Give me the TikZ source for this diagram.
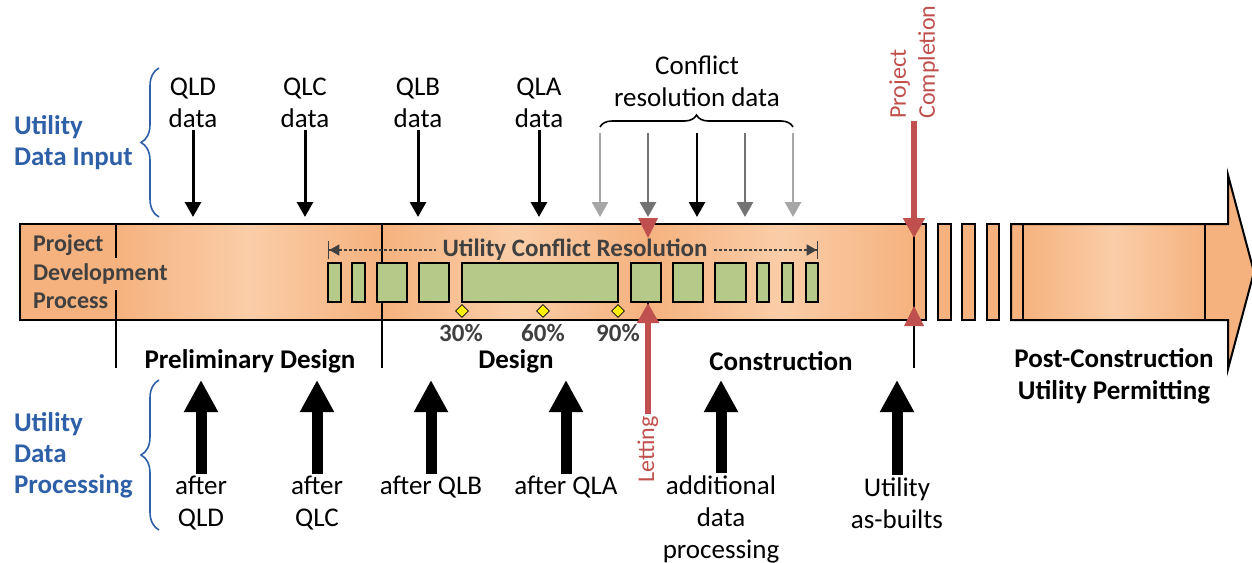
\documentclass[tikz,border=0pt]{standalone}
\usepackage{fontspec}
\setmainfont{Carlito}
\usetikzlibrary{arrows.meta, shapes.geometric, decorations.pathreplacing, positioning}

\definecolor{barorange}{RGB}{245,178,126}
\definecolor{barlight}{RGB}{250,205,168}
\definecolor{boxgreen}{RGB}{181,202,137}
\definecolor{headblue}{RGB}{46,96,168}
\definecolor{markred}{RGB}{192,80,77}
\definecolor{textgray}{RGB}{64,64,64}
\definecolor{lightarr}{RGB}{166,166,166}
\definecolor{midarr}{RGB}{115,115,115}

\begin{document}
\begin{tikzpicture}[x=0.5pt, y=-0.5pt,
        datatext/.style={align=center, inner sep=1pt, font=\fontsize{13.5}{16}\selectfont},
        phase/.style={align=center, font=\fontsize{13.5}{16}\selectfont\bfseries},
        sidetext/.style={align=left, anchor=west, text=headblue, font=\fontsize{13.5}{15.5}\selectfont\bfseries},
        pct/.style={text=textgray, font=\fontsize{12.5}{14}\selectfont\bfseries},
        redtext/.style={rotate=90, text=markred, inner sep=1pt, font=\fontsize{12}{14.5}\selectfont},
        inputarrow/.style={-{Triangle[length=7.5pt,width=8pt]}, line width=1.5pt},
        procarrow/.style={-{Triangle[length=16pt,width=16pt]}, line width=5.5pt},
        redarrow/.style={-{Triangle[length=10pt,width=10.5pt]}, line width=2.8pt, draw=markred},
        ucrline/.style={draw=textgray, line width=0.65pt, dash pattern=on 1.5pt off 1pt},
        ucbox/.style={draw, line width=0.9pt, fill=boxgreen},
        milestone/.style={diamond, draw, fill=yellow, inner sep=0pt, minimum size=6.5pt, line width=0.4pt},
        seg/.style={left color=barorange, right color=barorange, middle color=barlight},
        bluebrace/.style={decorate, decoration={brace, amplitude=9pt}, draw=headblue, line width=0.8pt}]

        \useasboundingbox (0,0) rectangle (1252,562);

        % Process bar
        \fill[barorange] (20,224) rectangle (116,320);
        \shade[seg] (116,224) rectangle (382,320);
        \shade[seg] (382,224) rectangle (648,320);
        \shade[seg] (648,224) rectangle (914,320);
        \fill[barorange] (914,224) rectangle (926,320);
        \draw[line width=1pt] (20,224) rectangle (926,320);
        \foreach \a/\b in {938/951, 962/975, 987/999}
          \draw[line width=1pt, fill=barorange] (\a,224) rectangle (\b,320);
        \fill[barorange] (1011,224) -- (1228,224) -- (1228,175) -- (1254,272)
          -- (1228,369) -- (1228,320) -- (1011,320) -- cycle;
        \shade[seg] (1023,224) rectangle (1205,320);
        \draw[line width=1pt] (1011,224) -- (1228,224) -- (1228,175) -- (1254,272)
          -- (1228,369) -- (1228,320) -- (1011,320) -- cycle;
        \draw[line width=0.8pt] (1023,224) -- (1023,320) (1205,224) -- (1205,320);

        % Phase dividers
        \draw[line width=0.8pt] (116,224) -- (116,258) (116,290) -- (116,368);
        \draw[line width=0.8pt] (382,224) -- (382,368);
        \draw[line width=0.8pt] (648,302) -- (648,368);
        \draw[line width=0.8pt] (914,224) -- (914,368);

        \node[anchor=west, align=left, text=textgray, font=\fontsize{12}{14.2}\selectfont\bfseries]
          (pdp) at (26,272) {Project\\Development\\Process};

        % Utility conflict resolution
        \node[text=textgray, inner sep=3pt, font=\fontsize{12.5}{14}\selectfont\bfseries]
          (ucr) at (575,250) {Utility Conflict Resolution};
        \coordinate (ucrl) at (328,250);
        \coordinate (ucrr) at (818,250);
        \draw[ucrline, {Bar[width=9pt]Triangle[length=5pt,width=5.5pt]}-] (ucrl) -- (ucr.west);
        \draw[ucrline, -{Triangle[length=5pt,width=5.5pt]Bar[width=9pt]}] (ucr.east) -- (ucrr);
        \foreach \a/\b in {328/341, 352/365, 377/407, 419/449, 462/618, 631/661,
                           673/703, 715/746, 757/769, 782/793, 806/818}
          \draw[ucbox] (\a,263) rectangle (\b,302);

        \node[milestone] (m30) at (462,311) {};
        \node[milestone] (m60) at (543,311) {};
        \node[milestone] (m90) at (618,311) {};
        \node[pct] (p30) at (461,333) {30\%};
        \node[pct] (p60) at (543,333) {60\%};
        \node[pct] (p90) at (618,333) {90\%};

        % Phases
        \node[phase] (prelim) at (250,361) {Preliminary Design};
        \node[phase] (design) at (516,361) {Design};
        \node[phase] (constr) at (781,361) {Construction};
        \node[phase] (post)   at (1114,376) {Post-Construction\\Utility Permitting};

        % Utility data input
        \node[sidetext] (udi) at (7,143) {Utility\\Data Input};
        \draw[bluebrace] (159,217) -- (159,68);
        \node[datatext] (qld) at (193,103) {QLD\\data};
        \node[datatext] (qlc) at (305,103) {QLC\\data};
        \node[datatext] (qlb) at (418,103) {QLB\\data};
        \node[datatext] (qla) at (539,103) {QLA\\data};
        \coordinate (qldin) at (193,217);
        \coordinate (qlcin) at (305,217);
        \coordinate (qlbin) at (418,217);
        \coordinate (qlain) at (539,217);
        \draw[inputarrow] (qld) -- (qldin);
        \draw[inputarrow] (qlc) -- (qlcin);
        \draw[inputarrow] (qlb) -- (qlbin);
        \draw[inputarrow] (qla) -- (qlain);

        \node[datatext] (crd) at (697,81) {Conflict\\resolution data};
        \draw[decorate, decoration={brace, amplitude=6pt}, line width=0.8pt] (600,127) -- (793,127);
        \foreach \x/\c [count=\i] in {600/lightarr, 648/midarr, 697/black, 745/midarr, 793/lightarr} {
          \coordinate (crs\i) at (\x,133);
          \coordinate (cre\i) at (\x,217);
          \draw[inputarrow, draw=\c, fill=\c, line width=1.4pt] (crs\i) -- (cre\i);
        }

        % Milestones
        \node[redtext, anchor=west, align=left] (pcomp) at (914,121) {Project\\Completion};
        \coordinate (pcompend) at (914,238);
        \draw[redarrow] (pcomp.west) -- (pcompend);
        \fill[markred] (904,326) -- (924,326) -- (914,306) -- cycle;

        \node[redtext, anchor=east] (letting) at (648,414) {Letting};
        \coordinate (lettend) at (648,303);
        \draw[redarrow] (letting.east) -- (lettend);
        \fill[markred] (638,218) -- (658,218) -- (648,238) -- cycle;

        % Utility data processing
        \node[sidetext] (udp) at (7,455) {Utility\\Data\\Processing};
        \draw[bluebrace] (159,530) -- (159,380);
        \node[datatext] (aqld)  at (201,503) {after\\QLD};
        \node[datatext] (aqlc)  at (317,503) {after\\QLC};
        \node[datatext] (aqlb)  at (431,487) {after QLB};
        \node[datatext] (aqla)  at (566,487) {after QLA};
        \node[datatext] (addp)  at (721,519) {additional\\data\\processing};
        \node[datatext] (asblt) at (897,503) {Utility\\as-builts};
        \foreach \n/\x in {aqld/201, aqlc/317, aqlb/431, aqla/566, addp/721, asblt/897} {
          \coordinate (\n top) at (\x,380);
          \draw[procarrow] (\n) -- (\n top);
        }
      \end{tikzpicture}
\end{document}
